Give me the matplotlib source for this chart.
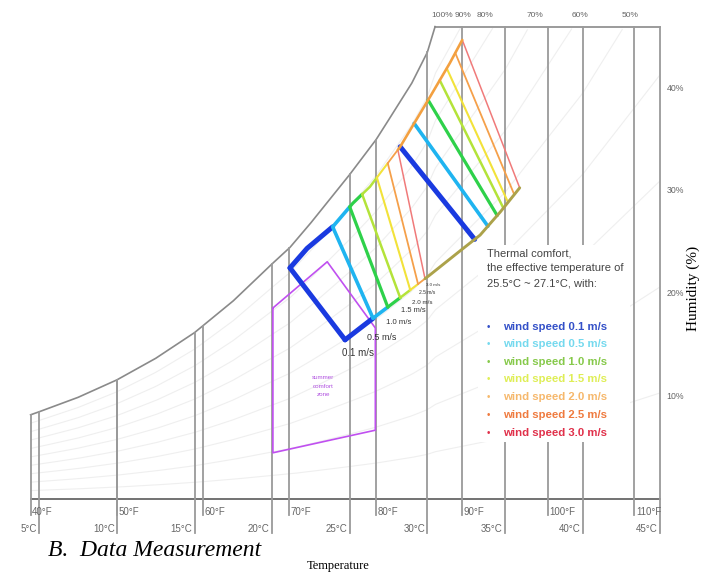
import numpy as np
import matplotlib.pyplot as plt
from matplotlib.patches import Rectangle

# saturation curve (100% rh), dry bulb in deg C vs humidity scale (%)
sat_t = [4.44, 5.0, 7.5, 10.0, 12.5, 15.0, 17.5, 20.0, 21.15, 22.5, 25.0, 26.7, 27.5, 29.0, 30.0, 30.5]
sat_h = [8.2, 8.5, 9.9, 11.6, 13.7, 16.2, 19.3, 22.9, 24.5, 26.9, 31.6, 35.0, 36.9, 40.5, 43.5, 46.0]
# estimated continuation above the top border (only used for the faint rh curves)
sat_t_ext = [35.0, 40.0, 45.0]
sat_h_ext = [59.7, 79.0, 103.3]

rh_curves = [0.1, 0.2, 0.3, 0.4, 0.5, 0.6, 0.7, 0.8, 0.9]
top_labels = ["100%", "90%", "80%", "70%", "60%", "50%"]
top_label_t = [30.96, 32.31, 33.73, 36.95, 39.85, 43.07]
right_labels = [10, 20, 30, 40]

f_temps = [40, 50, 60, 70, 80, 90, 100, 110]
c_temps = [5, 10, 15, 20, 25, 30, 35, 40, 45]

# thermal comfort zones for each wind speed
speeds = ["0.1", "0.5", "1.0", "1.5", "2.0", "2.5", "3.0"]
left_top_t = [21.15, 23.9, 25.0, 25.8, 26.75, 27.45, 28.1]
left_bot_t = [24.7, 26.5, 27.45, 28.25, 28.9, 29.4, 29.85]
right_top_t = [28.25, 29.15, 30.05, 30.8, 31.25, 31.8, 32.25]
right_bot_t = [33.05, 33.9, 34.5, 34.9, 35.2, 35.6, 35.95]

upper_edge_t = [21.15, 22.25, 23.9, 25.2, 26.3, 28.25, 30.15, 31.45, 32.25]
upper_edge_h = [22.5, 24.4, 26.5, 28.8, 30.4, 34.3, 39.1, 42.45, 44.7]
lower_edge_t = [24.7, 26.5, 28.25, 30.15, 32.1, 33.4, 34.7, 35.95]
lower_edge_h = [15.5, 17.6, 19.6, 21.8, 24.15, 25.7, 27.95, 30.3]

# summer comfort zone
comfort_t = [20.05, 23.55, 26.65, 26.65, 20.05, 20.05]
comfort_h = [18.6, 23.1, 16.65, 6.7, 4.5, 18.6]

zone_colors = ["#1a3ae0", "#1fb4f0", "#2ed14a", "#b4e33a", "#f2e23a", "#f5a04a", "#f07a7a"]
zone_widths = [3.6, 2.6, 2.3, 1.8, 1.5, 1.3, 1.1]
legend_colors = ["#3350c8", "#74d9ee", "#86c94a", "#dfee55", "#f6b86c", "#ef7a3e", "#e0304a"]
outer_top_color = "#f3a040"
outer_bottom_color = "#aca24a"

H_TOP = 46.0
T_LEFT = (40 - 32) * 5 / 9
T_RIGHT = 45.0

fig = plt.figure(figsize=(7.03, 5.75), dpi=100)
ax = fig.add_axes([0, 0, 1, 1])
ax.set_xlim(2.468, 47.76)
ax.set_ylim(-7.40, 48.59)
ax.axis("off")

sans = "Liberation Sans"
all_t = sat_t + sat_t_ext
all_h = sat_h + sat_h_ext


def sat_at(t):
    return np.interp(t, all_t, all_h)


# faint rh curves
tt = np.linspace(T_LEFT, T_RIGHT, 200)
for rh in rh_curves:
    hh = rh * sat_at(tt)
    m = hh <= H_TOP
    ax.plot(tt[m], hh[m], color="#efefef", lw=0.8, zorder=1)

# saturation curve and borders
ax.plot(sat_t, sat_h, color="#8a8a8a", lw=1.2, zorder=2)
ax.plot([sat_t[-1], T_RIGHT], [H_TOP, H_TOP], color="#8a8a8a", lw=1.2, zorder=2)
ax.plot([T_LEFT, T_RIGHT], [0, 0], color="#5a5a5a", lw=1.2, zorder=2)

# dry bulb lines
for f in f_temps:
    t = (f - 32) * 5 / 9
    ax.plot([t, t], [-1.6, min(sat_at(t), H_TOP)], color="#9a9a9a", lw=1.3, zorder=2)
    ax.text(t + 0.1, -1.27, f"{f}°F", fontsize=7, color="#666666", family=sans,
            ha="left", va="center")
for c in c_temps:
    ax.plot([c, c], [-3.3, min(sat_at(c), H_TOP)], color="#9a9a9a", lw=1.3, zorder=2)
    ax.text(c - 0.15, -2.95, f"{c}°C", fontsize=7, color="#666666", family=sans,
            ha="right", va="center")

for lab, t in zip(top_labels, top_label_t):
    ax.text(t, 47.1, lab, fontsize=6, color="#666666", family=sans, ha="center", va="center")
for v in right_labels:
    ax.text(45.4, v, f"{v}%", fontsize=6.3, color="#666666", family=sans, ha="left", va="center")

# summer comfort zone
ax.plot(comfort_t, comfort_h, color="#c050f0", lw=1.2, zorder=3)
ax.text(23.3, 11.0, "summer\ncomfort\nzone", fontsize=4.5, color="#b050e0", family=sans,
        ha="center", va="center", linespacing=1.9, zorder=3)


def edge(et, eh, t0, t1):
    ts = [t0] + [t for t in et if t0 < t < t1] + [t1]
    return ts, list(np.interp(ts, et, eh))


n = len(speeds)
for i in range(n):
    z = 4 + i
    # effective temperature lines
    ut, uh = edge(upper_edge_t, upper_edge_h, left_top_t[i], right_top_t[i])
    lt, lh = edge(lower_edge_t, lower_edge_h, left_bot_t[i], right_bot_t[i])
    ax.plot([ut[0], lt[0]], [uh[0], lh[0]], color=zone_colors[i], lw=zone_widths[i],
            zorder=z, solid_capstyle="round")
    ax.plot([ut[-1], lt[-1]], [uh[-1], lh[-1]], color=zone_colors[i], lw=zone_widths[i],
            zorder=z, solid_capstyle="round")
    # edge segments up to the next zone
    if i < n - 1:
        st, sh = edge(upper_edge_t, upper_edge_h, left_top_t[i], left_top_t[i + 1])
        bt, bh = edge(lower_edge_t, lower_edge_h, left_bot_t[i], left_bot_t[i + 1])
        ax.plot(st, sh, color=zone_colors[i], lw=zone_widths[i], zorder=z, solid_capstyle="round")
        ax.plot(bt, bh, color=zone_colors[i], lw=zone_widths[i], zorder=z, solid_capstyle="round")
    else:
        st, sh = edge(upper_edge_t, upper_edge_h, left_top_t[i], right_top_t[i])
        bt, bh = edge(lower_edge_t, lower_edge_h, left_bot_t[i], right_bot_t[i])
        ax.plot(st, sh, color=outer_top_color, lw=1.9, zorder=z, solid_capstyle="round")
        ax.plot(bt, bh, color=outer_bottom_color, lw=2.1, zorder=z, solid_capstyle="round")

# speed labels along the lower edge
lab_t = [24.49, 26.14, 27.36, 28.33, 29.04, 29.49, 29.94]
lab_h = [14.22, 15.77, 17.23, 18.40, 19.18, 20.06, 20.84]
lab_fs = [7, 6.4, 5.6, 5.4, 4.5, 3.6, 3.2]
for i in range(n):
    ax.text(lab_t[i], lab_h[i], f"{speeds[i]} m/s", fontsize=lab_fs[i], color="#333333",
            family=sans, ha="left", va="center", zorder=12)

# legend box
ax.add_patch(Rectangle((33.26, 5.55), 9.79, 19.18, facecolor="white", edgecolor="none", zorder=5))
for txt, h in zip(["Thermal comfort,", "the effective temperature of", "25.5°C ~ 27.1°C, with:"],
                  [23.95, 22.49, 21.03]):
    ax.text(33.84, h, txt, fontsize=8, color="#444444", family=sans,
            ha="left", va="center", zorder=13)
leg_h = [16.75, 15.09, 13.34, 11.68, 9.93, 8.18, 6.43]
for i in range(n):
    ax.text(33.84, leg_h[i], "•", fontsize=7, color=legend_colors[i], family=sans,
            ha="left", va="center", zorder=13)
    ax.text(34.87, leg_h[i], f"wind speed {speeds[i]} m/s", fontsize=8.2, color=legend_colors[i],
            family=sans, weight="bold", ha="left", va="center", zorder=13)

fig.text(48 / 703, 1 - 550 / 575, "B.  Data Measurement", fontsize=17, style="italic",
         family="Liberation Serif", ha="left", va="center")
fig.text(338 / 703, 1 - 566 / 575, "Temperature", fontsize=9, family="Liberation Serif",
         ha="center", va="center")
fig.text(693 / 703, 1 - 288 / 575, "Humidity (%)", fontsize=11, family="Liberation Serif",
         rotation=90, ha="center", va="center")

fig.savefig("out.png", dpi=100)
